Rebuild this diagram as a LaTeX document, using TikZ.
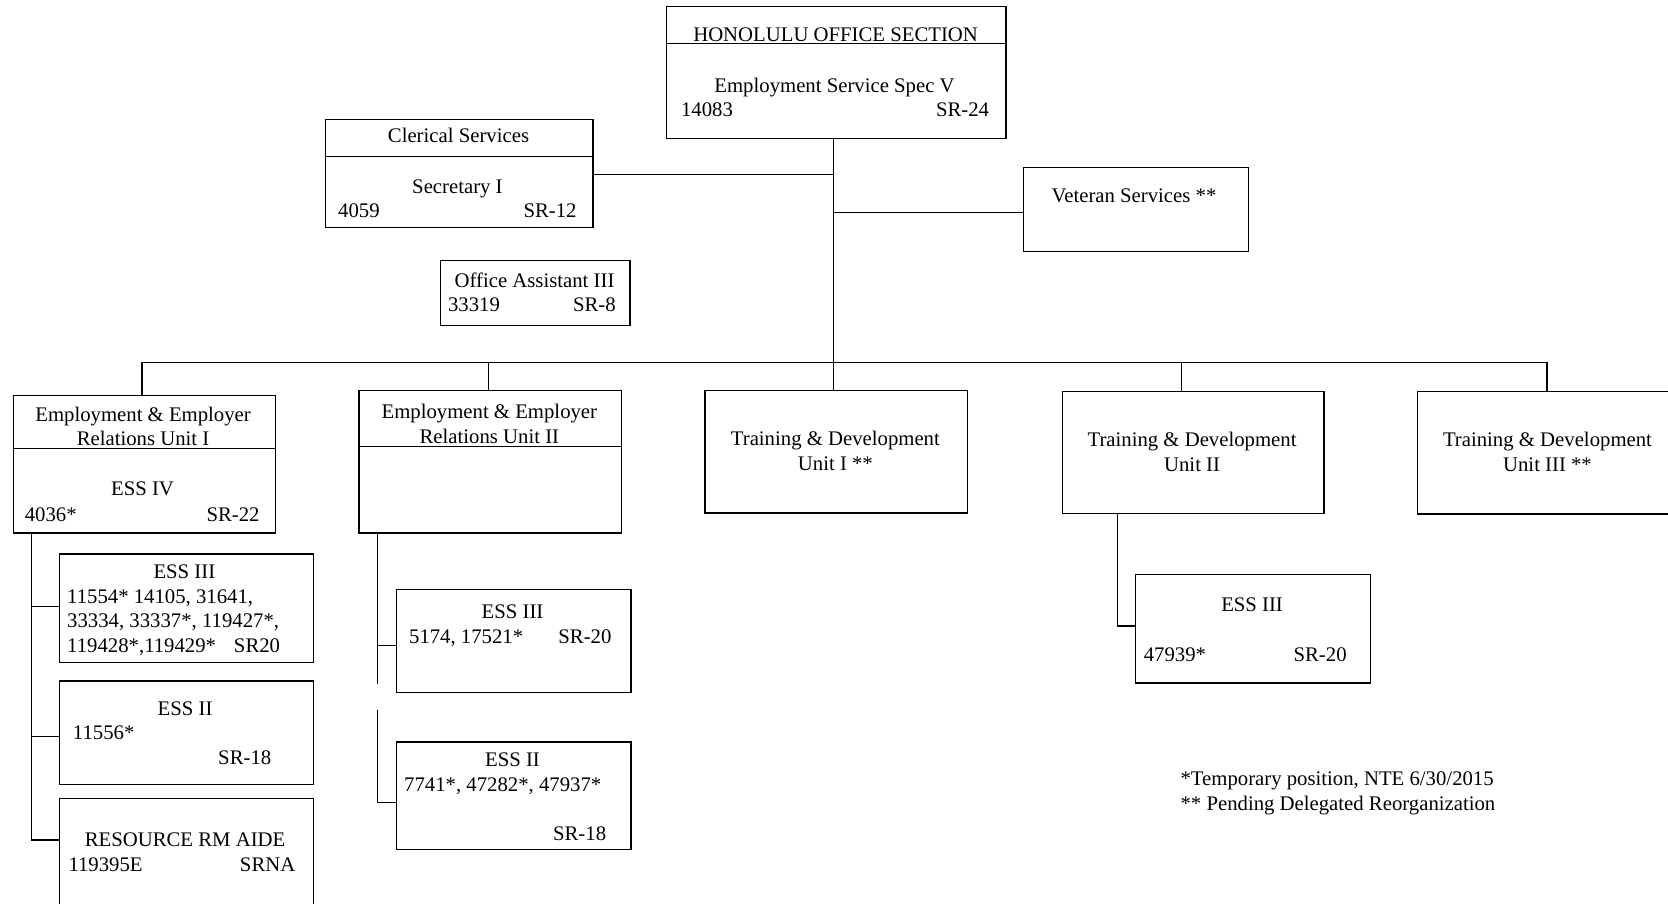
\documentclass[tikz,border=0pt]{standalone}
\usepackage{fontspec}
\setmainfont{Liberation Serif}
\begin{document}
\begin{tikzpicture}[x=1pt,y=-1pt,
  box/.style={draw=black,line width=1.2pt,inner sep=0pt,anchor=north west},
  ln/.style={draw=black,line width=1.1pt},
  tc/.style={inner sep=0pt,anchor=base,yshift=-1pt},
  tl/.style={inner sep=0pt,anchor=base west,yshift=-1pt},
  tr/.style={inner sep=0pt,anchor=base east,yshift=-1pt},
  font=\fontsize{19.5}{23}\selectfont]
\useasboundingbox (0,0) rectangle (1568,849);
% boxes
\node[box,minimum width=319pt,minimum height=123.8pt] (hon) at (626,5.6) {};
\node[box,minimum width=251.4pt,minimum height=101.2pt] (cler) at (305.5,111.9) {};
\node[box,minimum width=178.4pt,minimum height=61.1pt] (oa) at (413.3,244.4) {};
\node[box,minimum width=211.7pt,minimum height=78.9pt] (vet) at (961.3,156.7) {};
\node[box,minimum width=246.3pt,minimum height=129.3pt] (eru1) at (11.8,371.1) {};
\node[box,minimum width=246.3pt,minimum height=134pt] (eru2) at (337,366.4) {};
\node[box,minimum width=246.6pt,minimum height=115pt] (td1) at (662,366.6) {};
\node[box,minimum width=246pt,minimum height=114.8pt] (td2) at (998,367.2) {};
\node[box,minimum width=246pt,minimum height=114.9pt] (td3) at (1332,367.6) {};
\node[box,minimum width=238.4pt,minimum height=102pt] (e3a) at (55.4,520.3) {};
\node[box,minimum width=238.4pt,minimum height=97.1pt] (e2a) at (55.4,639.6) {};
\node[box,minimum width=238.4pt,minimum height=120pt] (res) at (55.4,750) {};
\node[box,minimum width=220.8pt,minimum height=97.1pt] (e3b) at (371.8,553.4) {};
\node[box,minimum width=220.8pt,minimum height=101pt] (e2b) at (371.8,697) {};
\node[box,minimum width=220.7pt,minimum height=101.8pt] (e3c) at (1067,539.6) {};
% dividers
\draw[ln] (hon.west |- 0,40.7) -- (hon.east |- 0,40.7);
\draw[ln] (cler.west |- 0,147.3) -- (cler.east |- 0,147.3);
\draw[ln] (eru1.west |- 0,421.8) -- (eru1.east |- 0,421.8);
\draw[ln] (eru2.west |- 0,420) -- (eru2.east |- 0,420);
% junction coordinates
\coordinate (trunk) at (783.3,340.6);
\coordinate (jcl) at (783.3,163.9);
\coordinate (jvet) at (783.3,199.6);
\coordinate (busl) at (133.5,340.6);
\coordinate (bus2) at (459.5,340.6);
\coordinate (bus4) at (1110.7,340.6);
\coordinate (busr) at (1454.2,340.6);
\coordinate (v1) at (29.4,500.4);
\coordinate (v1e) at (29.4,789.6);
\coordinate (v2) at (354.6,500.4);
\coordinate (v2gap) at (354.6,643);
\coordinate (v2b) at (354.6,667.2);
\coordinate (v2e) at (354.6,754.3);
\coordinate (v3) at (1050.4,482);
\coordinate (v3e) at (1050.4,588.5);
% connectors
\draw[ln] (hon.south -| trunk) -- (trunk |- td1.north);
\draw[ln] (cler.east |- jcl) -- (jcl);
\draw[ln] (jvet) -- (vet.west |- jvet);
\draw[ln] (busl) -- (busr);
\draw[ln] (busl) -- (busl |- eru1.north);
\draw[ln] (bus2) -- (bus2 |- eru2.north);
\draw[ln] (bus4) -- (bus4 |- td2.north);
\draw[ln] (busr) -- (busr |- td3.north);
\draw[ln] (v1) -- (v1e) -- (res.west |- v1e);
\draw[ln] (v1 |- 0,570) -- (e3a.west |- 0,570);
\draw[ln] (v1 |- 0,692.6) -- (e2a.west |- 0,692.6);
\draw[ln] (v2) -- (v2gap);
\draw[ln] (v2 |- 0,606.8) -- (e3b.west |- 0,606.8);
\draw[ln] (v2b) -- (v2e) -- (e2b.west |- v2e);
\draw[ln] (v3) -- (v3e) -- (e3c.west |- v3e);
% texts
\node[tc] (h1) at (785.5,38.2) {HONOLULU OFFICE SECTION};
\node[tc] (h2) at (784.5,86.2) {Employment Service Spec V};
\node[tl] (h3) at (640,108.7) {14083};
\node[tr] (h4) at (930,108.7) {SR-24};
\node[tc] (c1) at (431,133.2) {Clerical Services};
\node[tc] (c2) at (430,180.8) {Secretary I};
\node[tl] (c3) at (317.7,203.7) {4059};
\node[tr] (c4) at (542.2,203.7) {SR-12};
\node[tc] (o1) at (502.5,269.5) {Office Assistant III};
\node[tl] (o2) at (421,292) {33319};
\node[tr] (o3) at (579,292) {SR-8};
\node[tc] (vt) at (1066,189.6) {Veteran Services **};
\node[tc] (a1) at (134.5,395.3) {Employment \& Employer};
\node[tc] (a2) at (134.5,417.9) {Relations Unit I};
\node[tc] (a3) at (134,464.9) {ESS IV};
\node[tl] (a4) at (23.1,488.8) {4036*};
\node[tr] (a5) at (244.2,488.8) {SR-22};
\node[tc] (b1) at (460,392.7) {Employment \& Employer};
\node[tc] (b2) at (460,415.9) {Relations Unit II};
\node[tc] (d1) at (785.3,417.7) {Training \& Development};
\node[tc] (d2) at (785.3,441.2) {Unit I **};
\node[tc] (f1) at (1120.6,418.3) {Training \& Development};
\node[tc] (f2) at (1120.6,441.8) {Unit II};
\node[tc] (g1) at (1454.7,418.5) {Training \& Development};
\node[tc] (g2) at (1454.7,442) {Unit III **};
\node[tc] (p1) at (173.3,542.8) {ESS III};
\node[tl] (p2) at (63,566) {11554* 14105, 31641,};
\node[tl] (p3) at (63,589.2) {33334, 33337*, 119427*,};
\node[tl] (p4) at (63,612.4) {119428*,119429*};
\node[tr] (p5) at (263.5,612.4) {SR20};
\node[tc] (q1) at (174,671.4) {ESS II};
\node[tl] (q2) at (68.4,693.7) {11556*};
\node[tr] (q3) at (255.2,717.5) {SR-18};
\node[tc] (r1) at (174,794.7) {RESOURCE RM AIDE};
\node[tl] (r2) at (64.2,817.9) {119395E};
\node[tr] (r3) at (277.8,817.9) {SRNA};
\node[tc] (s1) at (481.8,580) {ESS III};
\node[tl] (s2) at (384.4,603.5) {5174, 17521*};
\node[tr] (s3) at (575,603.5) {SR-20};
\node[tc] (u1) at (481.8,719.5) {ESS II};
\node[tl] (u2) at (379.8,742.6) {7741*, 47282*, 47937*};
\node[tr] (u3) at (570,789) {SR-18};
\node[tc] (w1) at (1177,573.4) {ESS III};
\node[tl] (w2) at (1075,620.4) {47939*};
\node[tr] (w3) at (1266.1,620.4) {SR-20};
\node[tl] (l1) at (1109.6,737) {*Temporary position, NTE 6/30/2015};
\node[tl] (l2) at (1109.6,760.8) {** Pending Delegated Reorganization};
\end{tikzpicture}
\end{document}
